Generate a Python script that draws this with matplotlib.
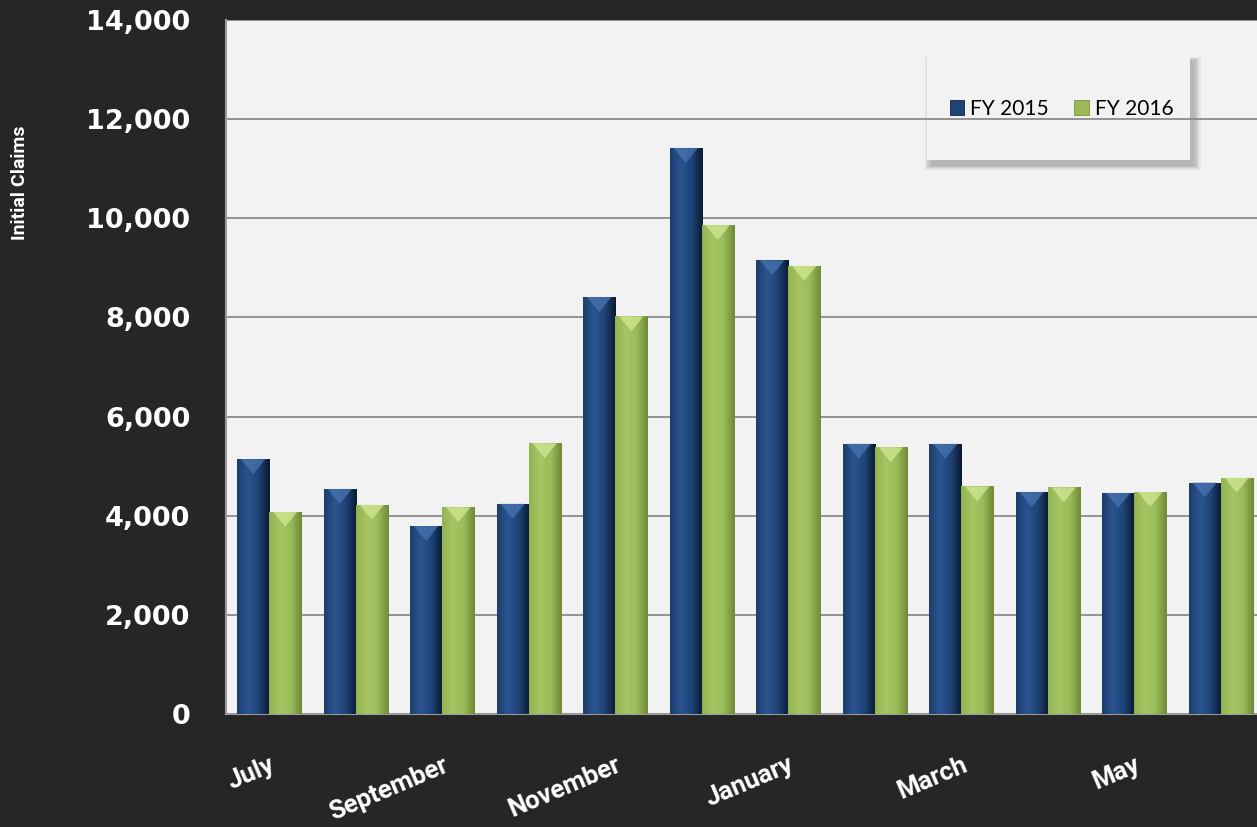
import matplotlib.pyplot as plt
import matplotlib.patches as mpatches
import numpy as np
from matplotlib.colors import LinearSegmentedColormap
from matplotlib.ticker import FuncFormatter

months = ["July", "August", "September", "October", "November", "December",
          "January", "February", "March", "April", "May", "June"]
fy2015 = [5140, 4540, 3790, 4240, 8410, 11420, 9150, 5450, 5450, 4480, 4460, 4670]
fy2016 = [4080, 4220, 4170, 5460, 8020, 9860, 9040, 5380, 4590, 4570, 4480, 4770]
series_names = ["FY 2015", "FY 2016"]

BG = "#262626"
PLOT_BG = "#f2f2f2"

blue_cmap = LinearSegmentedColormap.from_list(
    "b", ["#1c3d6c", "#2b5591", "#1f4376", "#0a1a30"])
green_cmap = LinearSegmentedColormap.from_list(
    "g", ["#93b453", "#a6c563", "#9abb59", "#6f8a35"])

fig = plt.figure(figsize=(12.57, 8.27), dpi=100, facecolor=BG)
ax = fig.add_axes([226 / 1257, 1 - 714 / 827, 1038 / 1257, 694 / 827])
ax.set_facecolor(PLOT_BG)

x = np.arange(len(months))
w = 0.37
bars1 = ax.bar(x - w / 2, fy2015, w, color="#1f4376", edgecolor="#0d1f3a",
               linewidth=0.6, zorder=3, label=series_names[0])
bars2 = ax.bar(x + w / 2, fy2016, w, color="#9bbb59", edgecolor="#748f3c",
               linewidth=0.6, zorder=3, label=series_names[1])

# fake bevel: horizontal gradient + light wedge on top of each bar
grad = np.linspace(0, 1, 64).reshape(1, -1)
for bars, cmap, top_col in [(bars1, blue_cmap, "#4a77b4"), (bars2, green_cmap, "#d6eb98")]:
    for b in bars:
        bx, bw, bh = b.get_x(), b.get_width(), b.get_height()
        im = ax.imshow(grad, cmap=cmap, aspect="auto", extent=(bx, bx + bw, 0, bh),
                       zorder=3.5, interpolation="bicubic")
        im.set_clip_path(b)
        depth = 300
        tri = mpatches.Polygon([(bx + bw * 0.12, bh), (bx + bw * 0.88, bh),
                                (bx + bw * 0.5, bh - depth)],
                               closed=True, facecolor=top_col, edgecolor="none",
                               alpha=0.7, zorder=3.6)
        ax.add_patch(tri)

ax.set_xlim(-0.5, len(months) - 0.5)
ax.set_ylim(0, 14000)
ax.set_yticks(np.arange(0, 14001, 2000))
ax.yaxis.set_major_formatter(FuncFormatter(lambda v, p: f"{int(v):,}"))
ax.grid(axis="y", color="#8c8c8c", linewidth=1.3, zorder=1)
ax.tick_params(axis="y", length=0, pad=25.5, colors="white", labelsize=19.5)
for lab in ax.get_yticklabels():
    lab.set_fontweight("bold")
    lab.set_family("DejaVu Sans")

ax.set_xticks(x[::2])
ax.set_xticklabels(months[::2], rotation=23, ha="right", rotation_mode="anchor",
                   family="Roboto", fontweight="bold", fontsize=18.5, color="white")
ax.tick_params(axis="x", length=0, pad=28)

for s in ["top", "right"]:
    ax.spines[s].set_visible(False)
for s in ["left", "bottom"]:
    ax.spines[s].set_color("#9a9a9a")
    ax.spines[s].set_linewidth(1.5)

fig.text(20 / 1257, 1 - 183 / 827, "Initial Claims", rotation=90, color="white",
         family="Roboto", fontweight="bold", fontsize=14, ha="center", va="center")

# legend box with soft shadow (drawn under the gridlines like the original)
bx0, by0, bw0, bh0 = 0.675, 0.798, 0.254, 0.151
for i in range(6):
    e = 0.0012 * i
    sh = mpatches.Rectangle((bx0 + 0.004 - e, by0 - 0.008 - e), bw0 + 2 * e, bh0 + 2 * e,
                            transform=ax.transAxes, facecolor="#505050",
                            edgecolor="none", alpha=0.07, zorder=0.6)
    ax.add_patch(sh)
box = mpatches.Rectangle((bx0, by0), bw0, bh0, transform=ax.transAxes,
                         facecolor=PLOT_BG, edgecolor="none", zorder=0.8)
ax.add_patch(box)
leg = ax.legend(loc="center", bbox_to_anchor=(0.805, 0.872), ncol=2, frameon=False,
                prop={"family": "Lato", "size": 15}, handlelength=0.7,
                handleheight=0.7, handletextpad=0.3, columnspacing=1.2)
leg.set_zorder(6)

fig.savefig("out.png", dpi=100, facecolor=BG)
